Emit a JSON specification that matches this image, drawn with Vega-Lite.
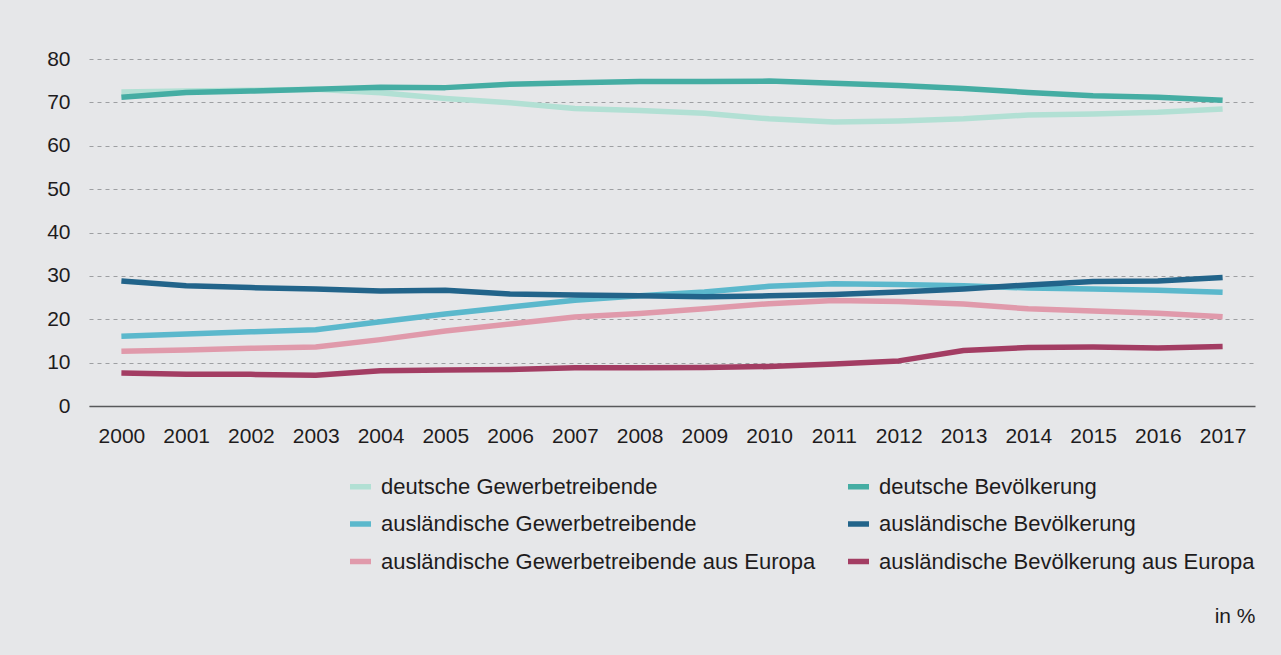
{
  "$schema": "https://vega.github.io/schema/vega-lite/v6.json",
  "autosize": "none",
  "width": 1166,
  "height": 347,
  "padding": {"left": 89, "top": 59, "right": 26, "bottom": 249},
  "background": "#e6e7e9",
  "config": {
    "view": {"stroke": null},
    "font": "Liberation Sans",
    "axis": {"labelFont": "Liberation Sans", "labelFontSize": 21, "labelColor": "#1e1c1d", "titleFont": "Liberation Sans"},
    "legend": {"labelFont": "Liberation Sans"}
  },
  "datasets": {
    "d": [
      {"year": "2000", "series": "deutsche Gewerbetreibende", "value": 72.4},
      {"year": "2001", "series": "deutsche Gewerbetreibende", "value": 72.6},
      {"year": "2002", "series": "deutsche Gewerbetreibende", "value": 72.8},
      {"year": "2003", "series": "deutsche Gewerbetreibende", "value": 73.0},
      {"year": "2004", "series": "deutsche Gewerbetreibende", "value": 72.2},
      {"year": "2005", "series": "deutsche Gewerbetreibende", "value": 70.9},
      {"year": "2006", "series": "deutsche Gewerbetreibende", "value": 69.9},
      {"year": "2007", "series": "deutsche Gewerbetreibende", "value": 68.6},
      {"year": "2008", "series": "deutsche Gewerbetreibende", "value": 68.1},
      {"year": "2009", "series": "deutsche Gewerbetreibende", "value": 67.5},
      {"year": "2010", "series": "deutsche Gewerbetreibende", "value": 66.2},
      {"year": "2011", "series": "deutsche Gewerbetreibende", "value": 65.5},
      {"year": "2012", "series": "deutsche Gewerbetreibende", "value": 65.7},
      {"year": "2013", "series": "deutsche Gewerbetreibende", "value": 66.2},
      {"year": "2014", "series": "deutsche Gewerbetreibende", "value": 67.1},
      {"year": "2015", "series": "deutsche Gewerbetreibende", "value": 67.3},
      {"year": "2016", "series": "deutsche Gewerbetreibende", "value": 67.7},
      {"year": "2017", "series": "deutsche Gewerbetreibende", "value": 68.5},
      {"year": "2000", "series": "ausländische Gewerbetreibende", "value": 16.1},
      {"year": "2001", "series": "ausländische Gewerbetreibende", "value": 16.6},
      {"year": "2002", "series": "ausländische Gewerbetreibende", "value": 17.1},
      {"year": "2003", "series": "ausländische Gewerbetreibende", "value": 17.6},
      {"year": "2004", "series": "ausländische Gewerbetreibende", "value": 19.4},
      {"year": "2005", "series": "ausländische Gewerbetreibende", "value": 21.2},
      {"year": "2006", "series": "ausländische Gewerbetreibende", "value": 22.8},
      {"year": "2007", "series": "ausländische Gewerbetreibende", "value": 24.4},
      {"year": "2008", "series": "ausländische Gewerbetreibende", "value": 25.4},
      {"year": "2009", "series": "ausländische Gewerbetreibende", "value": 26.3},
      {"year": "2010", "series": "ausländische Gewerbetreibende", "value": 27.6},
      {"year": "2011", "series": "ausländische Gewerbetreibende", "value": 28.2},
      {"year": "2012", "series": "ausländische Gewerbetreibende", "value": 28.0},
      {"year": "2013", "series": "ausländische Gewerbetreibende", "value": 27.7},
      {"year": "2014", "series": "ausländische Gewerbetreibende", "value": 27.2},
      {"year": "2015", "series": "ausländische Gewerbetreibende", "value": 27.0},
      {"year": "2016", "series": "ausländische Gewerbetreibende", "value": 26.7},
      {"year": "2017", "series": "ausländische Gewerbetreibende", "value": 26.2},
      {"year": "2000", "series": "ausländische Gewerbetreibende aus Europa", "value": 12.6},
      {"year": "2001", "series": "ausländische Gewerbetreibende aus Europa", "value": 12.9},
      {"year": "2002", "series": "ausländische Gewerbetreibende aus Europa", "value": 13.3},
      {"year": "2003", "series": "ausländische Gewerbetreibende aus Europa", "value": 13.6},
      {"year": "2004", "series": "ausländische Gewerbetreibende aus Europa", "value": 15.3},
      {"year": "2005", "series": "ausländische Gewerbetreibende aus Europa", "value": 17.3},
      {"year": "2006", "series": "ausländische Gewerbetreibende aus Europa", "value": 18.9},
      {"year": "2007", "series": "ausländische Gewerbetreibende aus Europa", "value": 20.5},
      {"year": "2008", "series": "ausländische Gewerbetreibende aus Europa", "value": 21.3},
      {"year": "2009", "series": "ausländische Gewerbetreibende aus Europa", "value": 22.4},
      {"year": "2010", "series": "ausländische Gewerbetreibende aus Europa", "value": 23.6},
      {"year": "2011", "series": "ausländische Gewerbetreibende aus Europa", "value": 24.3},
      {"year": "2012", "series": "ausländische Gewerbetreibende aus Europa", "value": 24.1},
      {"year": "2013", "series": "ausländische Gewerbetreibende aus Europa", "value": 23.5},
      {"year": "2014", "series": "ausländische Gewerbetreibende aus Europa", "value": 22.4},
      {"year": "2015", "series": "ausländische Gewerbetreibende aus Europa", "value": 21.9},
      {"year": "2016", "series": "ausländische Gewerbetreibende aus Europa", "value": 21.4},
      {"year": "2017", "series": "ausländische Gewerbetreibende aus Europa", "value": 20.6},
      {"year": "2000", "series": "deutsche Bevölkerung", "value": 71.2},
      {"year": "2001", "series": "deutsche Bevölkerung", "value": 72.3},
      {"year": "2002", "series": "deutsche Bevölkerung", "value": 72.6},
      {"year": "2003", "series": "deutsche Bevölkerung", "value": 73.0},
      {"year": "2004", "series": "deutsche Bevölkerung", "value": 73.5},
      {"year": "2005", "series": "deutsche Bevölkerung", "value": 73.4},
      {"year": "2006", "series": "deutsche Bevölkerung", "value": 74.2},
      {"year": "2007", "series": "deutsche Bevölkerung", "value": 74.5},
      {"year": "2008", "series": "deutsche Bevölkerung", "value": 74.8},
      {"year": "2009", "series": "deutsche Bevölkerung", "value": 74.8},
      {"year": "2010", "series": "deutsche Bevölkerung", "value": 74.9},
      {"year": "2011", "series": "deutsche Bevölkerung", "value": 74.4},
      {"year": "2012", "series": "deutsche Bevölkerung", "value": 73.9},
      {"year": "2013", "series": "deutsche Bevölkerung", "value": 73.2},
      {"year": "2014", "series": "deutsche Bevölkerung", "value": 72.3},
      {"year": "2015", "series": "deutsche Bevölkerung", "value": 71.5},
      {"year": "2016", "series": "deutsche Bevölkerung", "value": 71.2},
      {"year": "2017", "series": "deutsche Bevölkerung", "value": 70.5},
      {"year": "2000", "series": "ausländische Bevölkerung", "value": 28.8},
      {"year": "2001", "series": "ausländische Bevölkerung", "value": 27.7},
      {"year": "2002", "series": "ausländische Bevölkerung", "value": 27.3},
      {"year": "2003", "series": "ausländische Bevölkerung", "value": 27.0},
      {"year": "2004", "series": "ausländische Bevölkerung", "value": 26.5},
      {"year": "2005", "series": "ausländische Bevölkerung", "value": 26.7},
      {"year": "2006", "series": "ausländische Bevölkerung", "value": 25.8},
      {"year": "2007", "series": "ausländische Bevölkerung", "value": 25.6},
      {"year": "2008", "series": "ausländische Bevölkerung", "value": 25.4},
      {"year": "2009", "series": "ausländische Bevölkerung", "value": 25.2},
      {"year": "2010", "series": "ausländische Bevölkerung", "value": 25.4},
      {"year": "2011", "series": "ausländische Bevölkerung", "value": 25.7},
      {"year": "2012", "series": "ausländische Bevölkerung", "value": 26.3},
      {"year": "2013", "series": "ausländische Bevölkerung", "value": 27.0},
      {"year": "2014", "series": "ausländische Bevölkerung", "value": 27.9},
      {"year": "2015", "series": "ausländische Bevölkerung", "value": 28.7},
      {"year": "2016", "series": "ausländische Bevölkerung", "value": 28.8},
      {"year": "2017", "series": "ausländische Bevölkerung", "value": 29.6},
      {"year": "2000", "series": "ausländische Bevölkerung aus Europa", "value": 7.6},
      {"year": "2001", "series": "ausländische Bevölkerung aus Europa", "value": 7.3},
      {"year": "2002", "series": "ausländische Bevölkerung aus Europa", "value": 7.3},
      {"year": "2003", "series": "ausländische Bevölkerung aus Europa", "value": 7.1},
      {"year": "2004", "series": "ausländische Bevölkerung aus Europa", "value": 8.1},
      {"year": "2005", "series": "ausländische Bevölkerung aus Europa", "value": 8.3},
      {"year": "2006", "series": "ausländische Bevölkerung aus Europa", "value": 8.4},
      {"year": "2007", "series": "ausländische Bevölkerung aus Europa", "value": 8.8},
      {"year": "2008", "series": "ausländische Bevölkerung aus Europa", "value": 8.8},
      {"year": "2009", "series": "ausländische Bevölkerung aus Europa", "value": 8.9},
      {"year": "2010", "series": "ausländische Bevölkerung aus Europa", "value": 9.1},
      {"year": "2011", "series": "ausländische Bevölkerung aus Europa", "value": 9.7},
      {"year": "2012", "series": "ausländische Bevölkerung aus Europa", "value": 10.4},
      {"year": "2013", "series": "ausländische Bevölkerung aus Europa", "value": 12.8},
      {"year": "2014", "series": "ausländische Bevölkerung aus Europa", "value": 13.5},
      {"year": "2015", "series": "ausländische Bevölkerung aus Europa", "value": 13.6},
      {"year": "2016", "series": "ausländische Bevölkerung aus Europa", "value": 13.4},
      {"year": "2017", "series": "ausländische Bevölkerung aus Europa", "value": 13.7}
    ]
  },
  "data": {"name": "d"},
  "mark": {"type": "line", "strokeWidth": 5.5, "strokeJoin": "round", "strokeCap": "butt"},
  "encoding": {
    "x": {
      "field": "year",
      "type": "ordinal",
      "scale": {"type": "point", "padding": 0.5},
      "axis": {
        "labelAngle": 0,
        "ticks": false,
        "labelPadding": 19,
        "domain": true,
        "domainColor": "#58595b",
        "domainWidth": 1.5,
        "grid": false,
        "title": "in %",
        "titleFontSize": 21,
        "titleFontWeight": "normal",
        "titleColor": "#1e1c1d",
        "titleAnchor": "end",
        "titleAlign": "right",
        "titleX": 1166,
        "titleY": 210,
        "titleBaseline": "middle"
      }
    },
    "y": {
      "field": "value",
      "type": "quantitative",
      "scale": {"domain": [0, 80], "nice": false},
      "axis": {
        "values": [0, 10, 20, 30, 40, 50, 60, 70, 80],
        "title": null,
        "domain": false,
        "ticks": false,
        "labelPadding": 19,
        "grid": true,
        "gridColor": "#9d9fa2",
        "gridDash": [4, 4],
        "gridWidth": 1.2
      }
    },
    "color": {
      "field": "series",
      "type": "nominal",
      "scale": {
        "domain": [
          "deutsche Gewerbetreibende",
          "deutsche Bevölkerung",
          "ausländische Gewerbetreibende",
          "ausländische Bevölkerung",
          "ausländische Gewerbetreibende aus Europa",
          "ausländische Bevölkerung aus Europa"
        ],
        "range": ["#b2e0d4", "#45ada3", "#5bb8cc", "#22648a", "#e09aab", "#a33d63"]
      },
      "legend": {
        "title": null,
        "orient": "none",
        "legendX": 258,
        "legendY": 414,
        "columns": 2,
        "direction": "horizontal",
        "symbolType": "stroke",
        "symbolSize": 441,
        "symbolStrokeWidth": 5.5,
        "labelFontSize": 22,
        "labelColor": "#1e1c1d",
        "labelOffset": 7,
        "labelLimit": 700,
        "rowPadding": 12.5,
        "columnPadding": 21
      }
    },
    "order": {"value": 0}
  }
}
